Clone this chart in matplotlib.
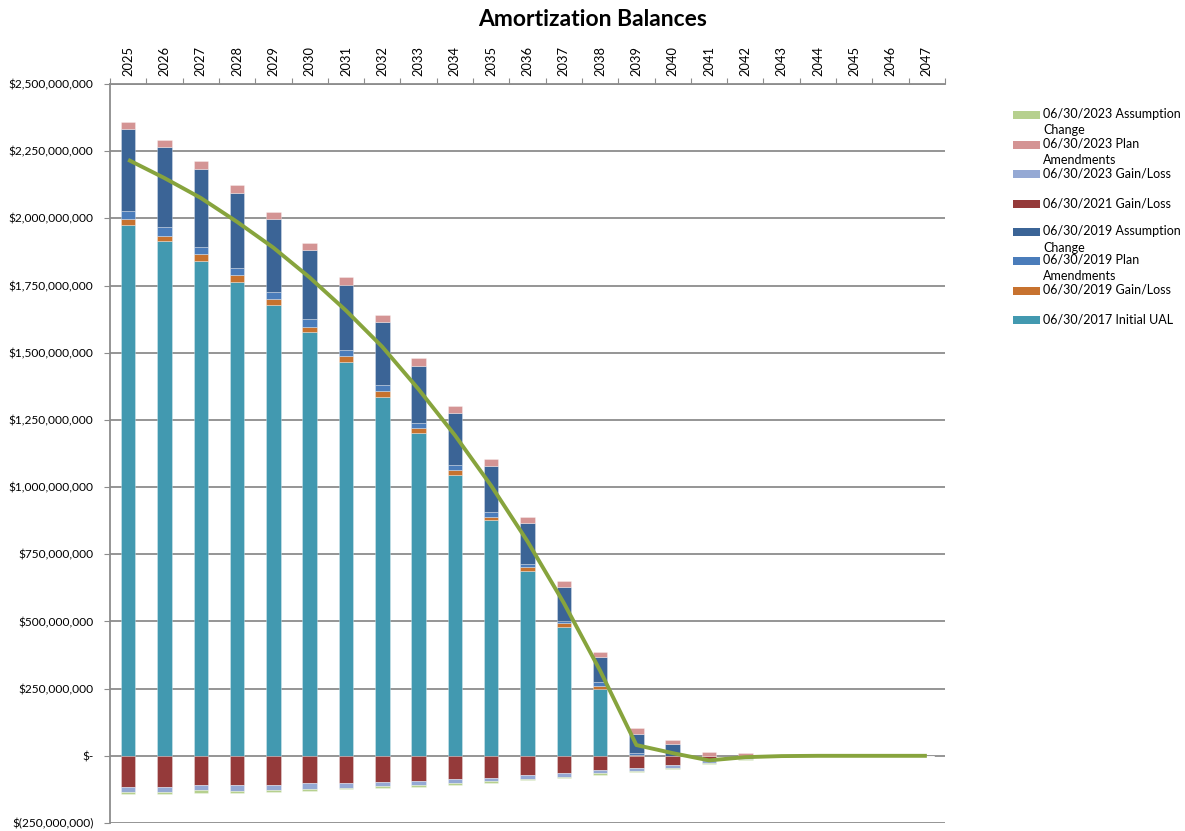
import matplotlib
matplotlib.use("Agg")
import matplotlib.pyplot as plt
from matplotlib.patches import Rectangle
import numpy as np

plt.rcParams['font.family'] = ['Lato', 'DejaVu Sans']

years = [str(y) for y in range(2025, 2048)]

# values in $ millions
ual_2017 = [1974, 1914, 1843, 1765, 1677, 1578, 1464, 1337, 1201, 1045, 876, 686, 479, 249, 0, 0, 0, 0, 0, 0, 0, 0, 0]
gl_2019 = [24, 22, 25, 24, 22, 19, 24, 20, 18, 18, 13, 16, 14, 12, 3, 0, 0, 0, 0, 0, 0, 0, 0]
plan_2019 = [29, 33, 27, 27, 27, 29, 23, 24, 20, 20, 19, 13, 9, 12, 8, 0, 0, 0, 0, 0, 0, 0, 0]
assump_2019 = [305, 295, 288, 280, 271, 257, 242, 232, 212, 192, 172, 152, 128, 95, 72, 45, 0, 0, 0, 0, 0, 0, 0]
gl_2021 = [-115, -115, -110, -110, -107, -103, -100, -97, -93, -86, -81, -73, -65, -53, -46, -33, -15, -6, -1, 0, 0, 0, 0]
gl_2023 = [-19, -19, -19, -20, -20, -20, -19, -15, -15, -16, -13, -13, -12, -11, -11, -11, -12, -6, -1, -0.5, 0, 0, 0]
plan_2023 = [27, 27, 31, 28, 28, 27, 27, 28, 28, 25, 25, 22, 21, 20, 19, 15, 15, 10, 2, 1, 0, 0, 0]
assump_2023 = [-7, -7, -9, -7, -7, -7, -4, -7, -7, -5, -6, -5, -5, -7, -5, -6, -5, -3, -1, -0.5, 0, 0, 0]

series_names = [
    "06/30/2017 Initial UAL",
    "06/30/2019 Gain/Loss",
    "06/30/2019 Plan Amendments",
    "06/30/2019 Assumption Change",
    "06/30/2021 Gain/Loss",
    "06/30/2023 Gain/Loss",
    "06/30/2023 Plan Amendments",
    "06/30/2023 Assumption Change",
]
legend_labels = [
    "06/30/2017 Initial UAL",
    "06/30/2019 Gain/Loss",
    "06/30/2019 Plan\nAmendments",
    "06/30/2019 Assumption\nChange",
    "06/30/2021 Gain/Loss",
    "06/30/2023 Gain/Loss",
    "06/30/2023 Plan\nAmendments",
    "06/30/2023 Assumption\nChange",
]
series_vals = [ual_2017, gl_2019, plan_2019, assump_2019, gl_2021, gl_2023, plan_2023, assump_2023]
colors = ['#4299B0', '#C7722F', '#4A7CBA', '#3B6496', '#953A3A', '#95A9D4', '#D49494', '#B6D08E']

fig = plt.figure(figsize=(11.85, 8.31), dpi=100)
ax = fig.add_axes([110/1185, 1-823/831, (945-110)/1185, (823-84)/831])

x = np.arange(len(years))
pos_base = np.zeros(len(years))
neg_base = np.zeros(len(years))
for vals, col in zip(series_vals, colors):
    v = np.array(vals, dtype=float) * 1e6
    bottom = np.where(v >= 0, pos_base, neg_base)
    ax.bar(x, v, 0.4, bottom=bottom, color=col, edgecolor=(1, 1, 1, 0.35), linewidth=0.6, zorder=3)
    pos_base = pos_base + np.where(v >= 0, v, 0)
    neg_base = neg_base + np.where(v < 0, v, 0)

total = np.sum(np.array(series_vals, dtype=float), axis=0) * 1e6
ax.plot(x, total, color='#87A43D', linewidth=2.8, zorder=4, solid_capstyle='butt')

ax.set_xlim(-0.5, len(years) - 0.5)
ax.set_ylim(-250e6, 2500e6)
yt = np.arange(-250e6, 2500e6 + 1, 250e6)
ax.set_yticks(yt)

def fmt(v):
    if abs(v) < 1:
        return "$-"
    if v < 0:
        return "$({:,.0f})".format(-v)
    return "${:,.0f}".format(v)

ax.set_yticklabels([fmt(v) for v in yt], fontsize=8.6)
ax.yaxis.grid(True, color='#8C8C8C', linewidth=1.3, zorder=0)
ax.set_axisbelow(True)

ax.xaxis.tick_top()
ax.set_xticks(np.arange(-0.5, len(years), 1.0))
ax.set_xticklabels([])
ax.set_xticks(x, minor=True)
ax.set_xticklabels(years, minor=True, rotation=90, fontsize=9.3)
ax.tick_params(axis='x', which='major', length=4, color='#8C8C8C', direction='out', top=True, bottom=False)
ax.tick_params(axis='x', which='minor', length=0, pad=6, top=True, bottom=False)
ax.tick_params(axis='y', length=4, color='#8C8C8C', direction='out', pad=8)

for s in ['right', 'bottom']:
    ax.spines[s].set_visible(False)
for s in ['left', 'top']:
    ax.spines[s].set_color('#8C8C8C')
    ax.spines[s].set_linewidth(1.3)

fig.text(0.5, 1 - 19/831, "Amortization Balances", ha='center', va='center',
         fontsize=16.5, fontweight='bold')

# legend, drawn in figure pixel coordinates (top entry = last series)
row_y = [115, 145, 174, 204, 232, 261, 291, 320]
order = list(range(len(series_names)))[::-1]
for ry, i in zip(row_y, order):
    fig.patches.append(Rectangle((1013/1185, 1 - (ry + 4)/831), 27/1185, 8/831,
                                 transform=fig.transFigure, facecolor=colors[i],
                                 edgecolor='none'))
    fig.text(1043/1185, 1 - (ry - 7)/831, legend_labels[i], ha='left', va='top',
             fontsize=9, linespacing=1.45)

fig.savefig("out.png", dpi=100)
